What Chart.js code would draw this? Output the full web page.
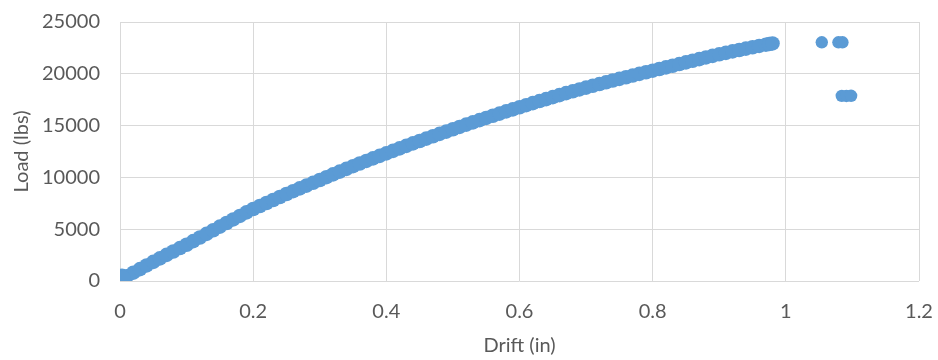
<!DOCTYPE html>
<html>
<head>
<meta charset="utf-8">
<script src="https://cdn.jsdelivr.net/npm/chart.js@4/dist/chart.umd.min.js"></script>
<style>
  html, body { margin: 0; padding: 0; background: #ffffff; }
  #wrap { width: 938px; height: 360px; }
</style>
</head>
<body>
<div id="wrap"><canvas id="c" width="938" height="360"></canvas></div>
<script>
// Drift (in) values
const drift = [
  0.00, 0.01, 0.02, 0.03, 0.04, 0.05, 0.06, 0.07, 0.08, 0.09,
  0.10, 0.11, 0.12, 0.13, 0.14, 0.15, 0.16, 0.17, 0.18, 0.19,
  0.20, 0.21, 0.22, 0.23, 0.24, 0.25, 0.26, 0.27, 0.28, 0.29,
  0.30, 0.31, 0.32, 0.33, 0.34, 0.35, 0.36, 0.37, 0.38, 0.39,
  0.40, 0.41, 0.42, 0.43, 0.44, 0.45, 0.46, 0.47, 0.48, 0.49,
  0.50, 0.51, 0.52, 0.53, 0.54, 0.55, 0.56, 0.57, 0.58, 0.59,
  0.60, 0.61, 0.62, 0.63, 0.64, 0.65, 0.66, 0.67, 0.68, 0.69,
  0.70, 0.71, 0.72, 0.73, 0.74, 0.75, 0.76, 0.77, 0.78, 0.79,
  0.80, 0.81, 0.82, 0.83, 0.84, 0.85, 0.86, 0.87, 0.88, 0.89,
  0.90, 0.91, 0.92, 0.93, 0.94, 0.95, 0.96, 0.97, 0.975, 0.98,
  0.000, 0.003, 0.005,
  1.054, 1.079, 1.085,
  1.084, 1.091, 1.098
];
// Load (lbs) values
const load = [
  100, 450, 800, 1150, 1500, 1850, 2180, 2520, 2850, 3180,
  3500, 3850, 4200, 4550, 4900, 5250, 5600, 5940, 6280, 6620,
  6950, 7240, 7530, 7820, 8110, 8400, 8670, 8940, 9210, 9480,
  9750, 10020, 10290, 10560, 10820, 11080, 11340, 11590, 11840, 12080,
  12320, 12560, 12800, 13040, 13280, 13510, 13740, 13970, 14200, 14420,
  14650, 14870, 15090, 15310, 15530, 15740, 15950, 16160, 16370, 16570,
  16770, 16970, 17170, 17370, 17560, 17750, 17940, 18130, 18310, 18490,
  18670, 18840, 19010, 19180, 19350, 19510, 19670, 19830, 19990, 20150,
  20300, 20460, 20620, 20780, 20940, 21100, 21260, 21420, 21580, 21730,
  21880, 22020, 22160, 22300, 22430, 22560, 22690, 22810, 22880, 22930,
  350, 500, 300,
  23040, 23040, 23040,
  17870, 17860, 17880
];
const xTickLabels = ['0', '0.2', '0.4', '0.6', '0.8', '1', '1.2'];
const yTickLabels = ['0', '5000', '10000', '15000', '20000', '25000'];
const xTitle = 'Drift (in)';
const yTitle = 'Load (lbs)';

const points = drift.map((d, i) => ({ x: d, y: load[i] }));
const textColor = '#595959';
const gridColor = '#d9d9d9';
const fontFamily = 'Lato, "Open Sans", sans-serif';

new Chart(document.getElementById('c'), {
  type: 'scatter',
  data: {
    datasets: [{
      data: points,
      backgroundColor: '#5b9bd5',
      borderColor: '#5b9bd5',
      borderWidth: 0,
      pointRadius: (ctx) => (ctx.raw && ctx.raw.x > 1 ? 6.2 : 7.3),
      pointHoverRadius: (ctx) => (ctx.raw && ctx.raw.x > 1 ? 6.2 : 7.3)
    }]
  },
  options: {
    responsive: false,
    animation: false,
    layout: { padding: { left: 0, right: 19, top: 22, bottom: 0 } },
    plugins: { legend: { display: false }, tooltip: { enabled: false } },
    scales: {
      x: {
        type: 'linear',
        min: 0, max: 1.2,
        afterBuildTicks: (scale) => {
          scale.ticks = xTickLabels.map(t => ({ value: parseFloat(t) }));
        },
        afterFit: (scale) => {
          scale.height = 79;
          scale.paddingLeft = 0; scale.paddingRight = 0;
        },
        grid: { color: gridColor, lineWidth: 1, drawTicks: false },
        border: { display: false },
        ticks: {
          padding: 19,
          color: textColor,
          font: { family: fontFamily, size: 20 },
          maxRotation: 0,
          callback: (v, i) => xTickLabels[i]
        },
        title: {
          display: true, text: xTitle, color: textColor,
          font: { family: fontFamily, size: 20 },
          padding: { top: 1, bottom: 2 }
        }
      },
      y: {
        type: 'linear',
        min: 0, max: 25000,
        afterBuildTicks: (scale) => {
          scale.ticks = yTickLabels.map(t => ({ value: parseFloat(t) }));
        },
        afterFit: (scale) => {
          scale.width = 120;
          scale.paddingTop = 0; scale.paddingBottom = 0;
        },
        grid: { color: gridColor, lineWidth: 1, drawTicks: false },
        border: { display: false },
        ticks: {
          padding: 20,
          color: textColor,
          font: { family: fontFamily, size: 20 },
          callback: (v, i) => yTickLabels[i]
        },
        title: {
          display: true, text: yTitle, color: textColor,
          font: { family: fontFamily, size: 20 },
          padding: { top: 10, bottom: 4 }
        }
      }
    }
  }
});
</script>
</body>
</html>
